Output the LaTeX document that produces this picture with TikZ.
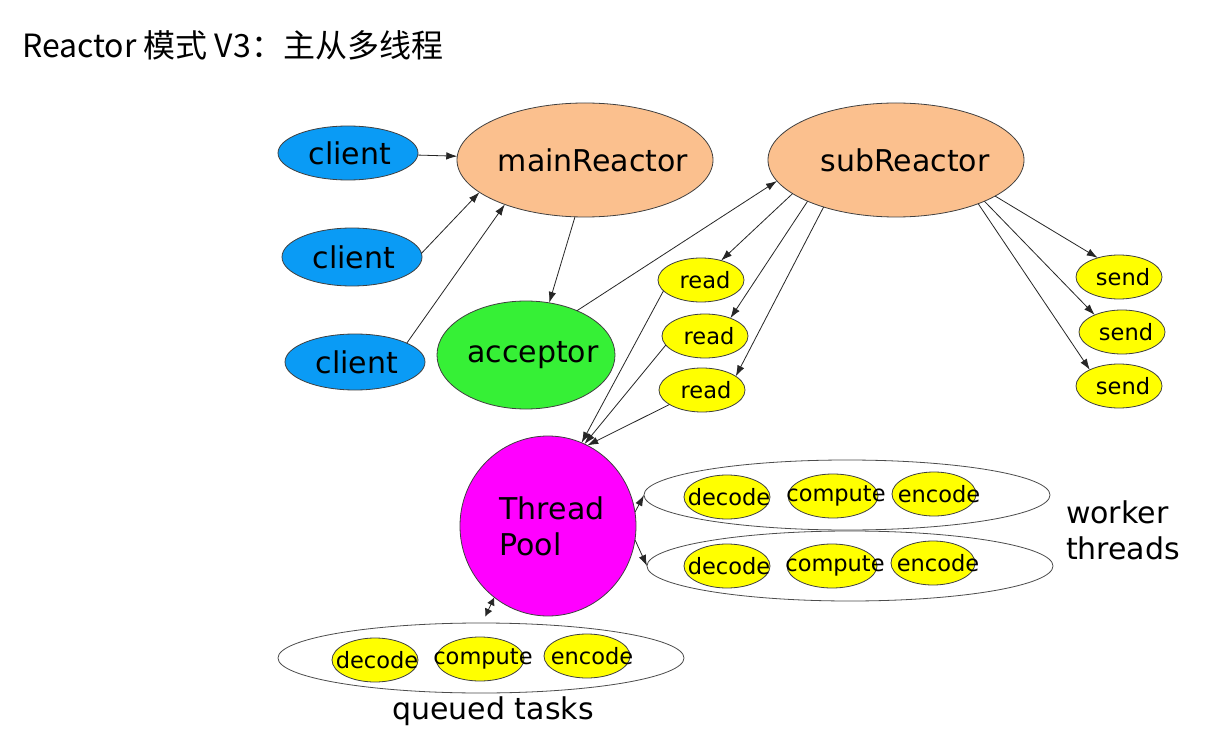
\documentclass[tikz,border=0pt]{standalone}
\usepackage{fontspec}
\setmainfont{DejaVu Sans}
\newfontfamily\cjk{Noto Sans CJK SC}
\usetikzlibrary{arrows.meta,shapes.geometric}
\definecolor{cblue}{HTML}{0A9BF5}
\definecolor{peach}{HTML}{FBC08E}
\definecolor{accgreen}{HTML}{36F036}
\definecolor{tpmag}{HTML}{FF00FF}
\definecolor{ylw}{HTML}{FFFF00}
\begin{document}
\begin{tikzpicture}[x=1pt,y=-1pt,
  every node/.style={inner sep=0pt,outer sep=0pt},
  ov/.style={ellipse,draw=black!75,line width=0.8pt},
  big/.style={font=\fontsize{30}{36}\selectfont},
  small/.style={font=\fontsize{22.5}{27}\selectfont},
  cli/.style={ov,fill=cblue,minimum width=140pt},
  reac/.style={ov,fill=peach,minimum width=256pt,minimum height=114pt},
  yel/.style={ov,fill=ylw,minimum height=44pt},
  grp/.style={ov,fill=white,draw=black!70,minimum width=406pt,minimum height=70pt},
  arr/.style={draw=black!85,line width=0.8pt,-{Latex[length=11pt,width=7.5pt]}},
  arrb/.style={draw=black!85,line width=0.8pt,{Latex[length=8pt,width=8pt]}-{Latex[length=8pt,width=8pt]}},
]
\fill[white] (0,0) rectangle (1208,730);
\useasboundingbox (0,0) rectangle (1208,730);

\node[anchor=west,font=\cjk\fontsize{32}{38}\selectfont] (title) at (22,45) {Reactor 模式 V3：主从多线程};

% clients
\node[cli,minimum height=54pt,label={[big,xshift=2pt]center:client}] (c1) at (348,153) {};
\node[cli,minimum height=58pt,label={[big,xshift=2pt]center:client}] (c2) at (352,257) {};
\node[cli,minimum height=56pt,label={[big,xshift=2pt]center:client}] (c3) at (355,362) {};

% reactors
\node[reac,label={[big,xshift=8pt]center:mainReactor}] (mr) at (585,160) {};
\node[reac,label={[big,xshift=9pt]center:subReactor}] (sr) at (896,160) {};
\node[ov,fill=accgreen,minimum width=178pt,minimum height=108pt,label={[big,xshift=7pt]center:acceptor}] (acc) at (526,355) {};

% read / send
\node[yel,minimum width=86pt,label={[small,xshift=4pt]center:read}] (r1) at (701,280) {};
\node[yel,minimum width=86pt,label={[small,xshift=4pt]center:read}] (r2) at (705,336) {};
\node[yel,minimum width=86pt,label={[small,xshift=4pt]center:read}] (r3) at (702,390) {};
\node[yel,minimum width=86pt,label={[small,xshift=4pt]center:send}] (s1) at (1119,277) {};
\node[yel,minimum width=86pt,label={[small,xshift=4pt]center:send}] (s2) at (1122,332) {};
\node[yel,minimum width=86pt,label={[small,xshift=4pt]center:send}] (s3) at (1119,386) {};

% thread pool
\node[ov,fill=tpmag,minimum width=176pt,minimum height=180pt,label={[big,align=left,xshift=4pt]center:{Thread\\Pool}}] (tp) at (548,526) {};

% worker groups
\node[grp] (w1) at (847,495) {};
\node[grp] (w2) at (850,566) {};
\node[grp] (q) at (481,658) {};

\node[yel,minimum width=86pt,label={[small,xshift=2pt]center:decode}] (d1) at (727,497) {};
\node[yel,minimum width=90pt,label={[small,xshift=3pt]center:compute}] (cp1) at (833,496) {};
\node[yel,minimum width=84pt,label={[small,xshift=5pt]center:encode}] (e1) at (934,494) {};
\node[yel,minimum width=86pt,label={[small,xshift=2pt]center:decode}] (d2) at (727,566) {};
\node[yel,minimum width=90pt,label={[small,xshift=3pt]center:compute}] (cp2) at (832,566) {};
\node[yel,minimum width=84pt,label={[small,xshift=5pt]center:encode}] (e2) at (933,563) {};
\node[yel,minimum width=86pt,label={[small,xshift=2pt]center:decode}] (d3) at (375,660) {};
\node[yel,minimum width=88pt,label={[small,xshift=3pt]center:compute}] (cp3) at (480,659) {};
\node[yel,minimum width=86pt,label={[small,xshift=5pt]center:encode}] (e3) at (587,656) {};

\node[big,anchor=west,align=left] (wt) at (1066,530) {worker\\threads};
\node[big] (qt) at (493,711) {queued tasks};

% edges
\draw[arr] (c1) -- (mr);
\draw[arr] (c2.3) -- (mr.197);
\draw[arr] (c3.20) -- (mr.209);
\draw[arr] (mr.260) -- (acc.66);
\draw[arr] (acc.41) -- (sr.190);
\draw[arr] (sr.198) -- (r1.44);
\draw[arr] (sr.205) -- (r2.35);
\draw[arr] (sr.213) -- (r3.22);
\draw[arr] (sr.-20) -- (s1.138);
\draw[arr] (sr.-25) -- (s2.148);
\draw[arr] (sr.-28) -- (s3.151);
\draw[arr] (r1.196) -- (tp.68);
\draw[arr] (r2.193) -- (tp.66);
\draw[arr] (r3.204) -- (tp.64);
\draw[arr] (tp.9) -- (w1.west);
\draw[arr] (tp.-9) -- (w2.west);
\draw[arrb,shorten >=7pt] (tp.233) -- (q.88);
\end{tikzpicture}
\end{document}
